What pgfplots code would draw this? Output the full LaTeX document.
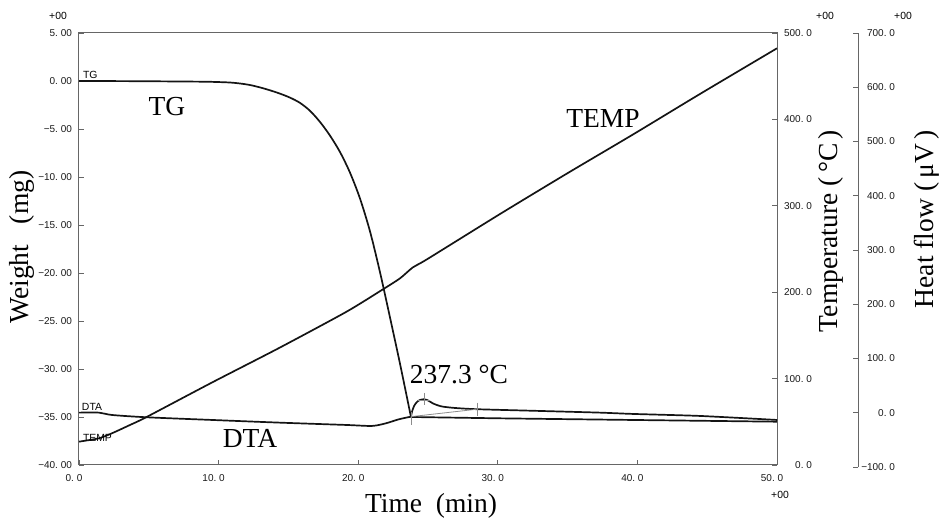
\documentclass[border=0pt]{standalone}
\usepackage{pgfplots}
\pgfplotsset{compat=1.18}
\usepackage{fontspec}
\setmainfont{Liberation Serif}
\newfontfamily\tickfont{Liberation Sans}
\newcommand\dd{.\hspace{0.28em}}

\begin{document}
\begin{tikzpicture}
\pgfplotsset{
  base/.style={
    scale only axis, width=349pt, height=216pt,
    tick align=inside, major tick length=2.5pt,
    axis line style={black!60, line width=0.5pt},
    tick style={black!60, line width=0.4pt},
    ticklabel style={font=\tickfont\fontsize{5}{6}\selectfont, text=black!90},
  },
  curve/.style={black!92, line width=0.85pt, line join=round},
}

% Weight (TG) on the left axis
\begin{axis}[base,
  xmin=0, xmax=50, ymin=-40, ymax=5,
  xtick pos=bottom, ytick pos=left,
  xtick={0,10,20,30,40,50},
  xticklabels={0\dd0,10\dd0,20\dd0,30\dd0,40\dd0,50\dd0},
  xticklabel style={xshift=-2.5pt, yshift=-1pt},
  ytick={-40,-35,-30,-25,-20,-15,-10,-5,0,5},
  yticklabels={−40\dd00,−35\dd00,−30\dd00,−25\dd00,−20\dd00,−15\dd00,−10\dd00,−5\dd00,0\dd00,5\dd00},
]
\addplot[curve, smooth, tension=0.5] coordinates {
  (0,0) (4.0,-0.02) (8.67,-0.07) (9.74,-0.10) (10.82,-0.16) (11.53,-0.26)
  (12.25,-0.42) (12.97,-0.67) (13.68,-0.97) (14.40,-1.32) (15.11,-1.73)
  (15.83,-2.28) (16.55,-3.11) (17.26,-4.26) (17.98,-5.69) (18.70,-7.41)
  (19.41,-9.54) (20.13,-12.25) (20.85,-15.69) (21.56,-19.91) (22.28,-24.65)
  (23.00,-29.49) (23.78,-35.0)
};
\addplot[curve] coordinates {
  (23.78,-35.0) (30.16,-35.14) (39.68,-35.31) (50,-35.49)
};
\end{axis}

% Temperature on the first right axis
\begin{axis}[base,
  xmin=0, xmax=50, ymin=0, ymax=500,
  hide x axis, axis y line*=right,
  ytick={0,100,200,300,400,500},
  yticklabels={0\dd0,100\dd0,200\dd0,300\dd0,400\dd0,500\dd0},
  yticklabel style={anchor=east, xshift=21pt},
]
\addplot[curve, smooth, tension=0.4] coordinates {
  (0,27.0) (1.43,30.9) (2.36,36.7) (3.65,46.3) (4.80,55.2) (9.53,95.5)
  (14.33,135.4) (19.13,177.1) (21.78,203.4) (23.0,216.1) (23.92,228.8)
  (24.93,238.1) (30.16,290.5) (34.96,337.4) (39.68,382.5) (44.48,429.4)
  (50,482.3)
};
\end{axis}

% Heat flow (DTA) on the outer right axis
\begin{axis}[base,
  at={(0pt,-1pt)}, width=389.5pt, height=217pt,
  xmin=0, xmax=55.80, ymin=-100, ymax=700,
  hide x axis, axis y line*=right,
  ytick={-100,0,100,200,300,400,500,600,700},
  yticklabels={−100\dd0,0\dd0,100\dd0,200\dd0,300\dd0,400\dd0,500\dd0,600\dd0,700\dd0},
  yticklabel style={anchor=east, xshift=22pt},
]
\addplot[curve, smooth, tension=0.45] coordinates {
  (0,0.2) (1.43,0.2) (2.36,-4.1) (4.80,-8.3) (9.53,-13.3) (14.33,-18.2)
  (19.13,-22.5) (20.99,-24.3) (21.99,-19.4) (22.92,-12.0) (23.78,-7.2)
};
\addplot[curve, smooth, tension=0.4] coordinates {
  (23.78,-7.2) (23.85,1.5) (24.00,12.5) (24.21,19.9) (24.43,23.6) (24.71,24.9)
  (25.0,22.7) (25.36,17.1) (25.72,13.5) (26.07,11.2) (26.93,8.8) (28.51,6.5)
  (33.02,3.3) (37.32,0.2) (39.68,-2.2) (44.48,-5.9) (50,-13.3)
};
% peak analysis: baseline and markers
\addplot[black!45, line width=0.4pt] coordinates {(23.78,-7.2) (28.51,6.5)};
\addplot[black!45, line width=0.4pt] coordinates {(23.78,1.9) (23.78,-22.6)};
\addplot[black!45, line width=0.4pt] coordinates {(24.71,36.4) (24.71,14.3)};
\addplot[black!45, line width=0.4pt] coordinates {(24.28,23.5) (25.14,23.5)};
\addplot[black!45, line width=0.4pt] coordinates {(28.51,18.5) (28.51,-6.0)};
\end{axis}

% curve names
\begin{scope}[font=\fontsize{13.75}{15}\selectfont]
  \node at (44pt,179pt) {TG};
  \node at (262pt,173pt) {TEMP};
  \node at (85.5pt,13.25pt) {DTA};
  \node at (190pt,45pt) {237.3 °C};
\end{scope}
\begin{scope}[font=\tickfont\fontsize{5.2}{6}\selectfont, inner sep=0pt]
  \node[anchor=south west] at (1.8pt,192.9pt) {TG};
  \node[anchor=south west] at (1.3pt,27.1pt) {DTA};
  \node[anchor=south west] at (1.8pt,11.7pt) {TEMP};
  \node at (-10.5pt,224.75pt) {+00};
  \node at (373pt,224.5pt) {+00};
  \node at (412pt,224.5pt) {+00};
  \node at (350.5pt,-15pt) {+00};
\end{scope}

% axis titles
\begin{scope}[font=\fontsize{13.75}{15}\selectfont]
  \node[rotate=90] at (-28.5pt,109pt) {Weight\ \ \ (mg)};
  \node at (176pt,-20.5pt) {Time\ \ (min)};
  \node[rotate=90] at (376pt,117pt) {Temperature\ (\,°C\,)};
  \node[rotate=90] at (424pt,123pt) {Heat flow\ (\,μV\,)};
\end{scope}

\pgfresetboundingbox
\path[use as bounding box] (-39.5pt,-28.5pt) rectangle (430.5pt,232.5pt);
\end{tikzpicture}
\end{document}
